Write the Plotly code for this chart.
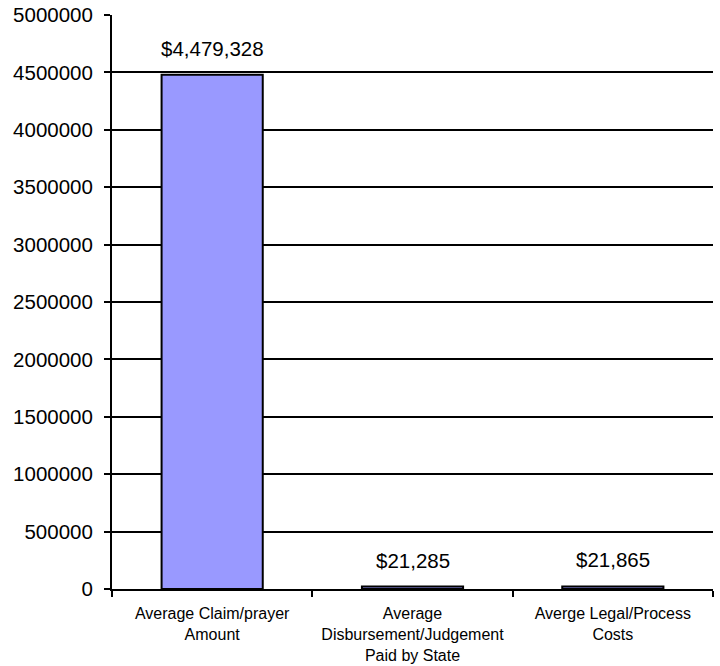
import plotly.graph_objects as go

categories = ["Average Claim/prayer<br>Amount",
              "Average<br>Disbursement/Judgement<br>Paid by State",
              "Averge Legal/Process<br>Costs"]
values = [4479328, 21285, 21865]
labels = ["$4,479,328", "$21,285", "$21,865"]
y_ticks = list(range(0, 5000001, 500000))

fig = go.Figure(go.Bar(
    x=categories, y=values,
    marker=dict(color="#9999FF", line=dict(color="black", width=2)),
    width=0.505, cliponaxis=False, hoverinfo="skip",
))

for c, v, t in zip(categories, values, labels):
    fig.add_annotation(x=c, y=v, text=t, showarrow=False, yanchor="bottom",
                       yshift=13, font=dict(size=20.5, color="black"))

fig.update_layout(
    width=720, height=666,
    margin=dict(l=112, r=7, t=15, b=77),
    paper_bgcolor="white", plot_bgcolor="white",
    font=dict(family="Liberation Sans, Arial", color="black"),
    showlegend=False,
    xaxis=dict(showline=True, linecolor="black", linewidth=2,
               ticks="outside", tickson="boundaries", ticklen=6,
               tickwidth=2, tickcolor="black", automargin=False,
               tickfont=dict(size=16), ticklabelstandoff=9,
               ticklabeloverflow="allow", showgrid=False),
    yaxis=dict(range=[0, 5000000], tickvals=y_ticks, automargin=False,
               tickformat="d", showline=True, linecolor="black", linewidth=2,
               ticks="outside", ticklen=6, tickwidth=2, tickcolor="black",
               tickfont=dict(size=20.5), ticklabelstandoff=7,
               ticklabeloverflow="allow",
               showgrid=True, gridcolor="black", gridwidth=2,
               zeroline=False),
)

# remove the page's default 8px body margin so the figure fills the window
fig.write_html("out.html", config={"displayModeBar": False},
               post_script="document.body.style.margin='0px';")
